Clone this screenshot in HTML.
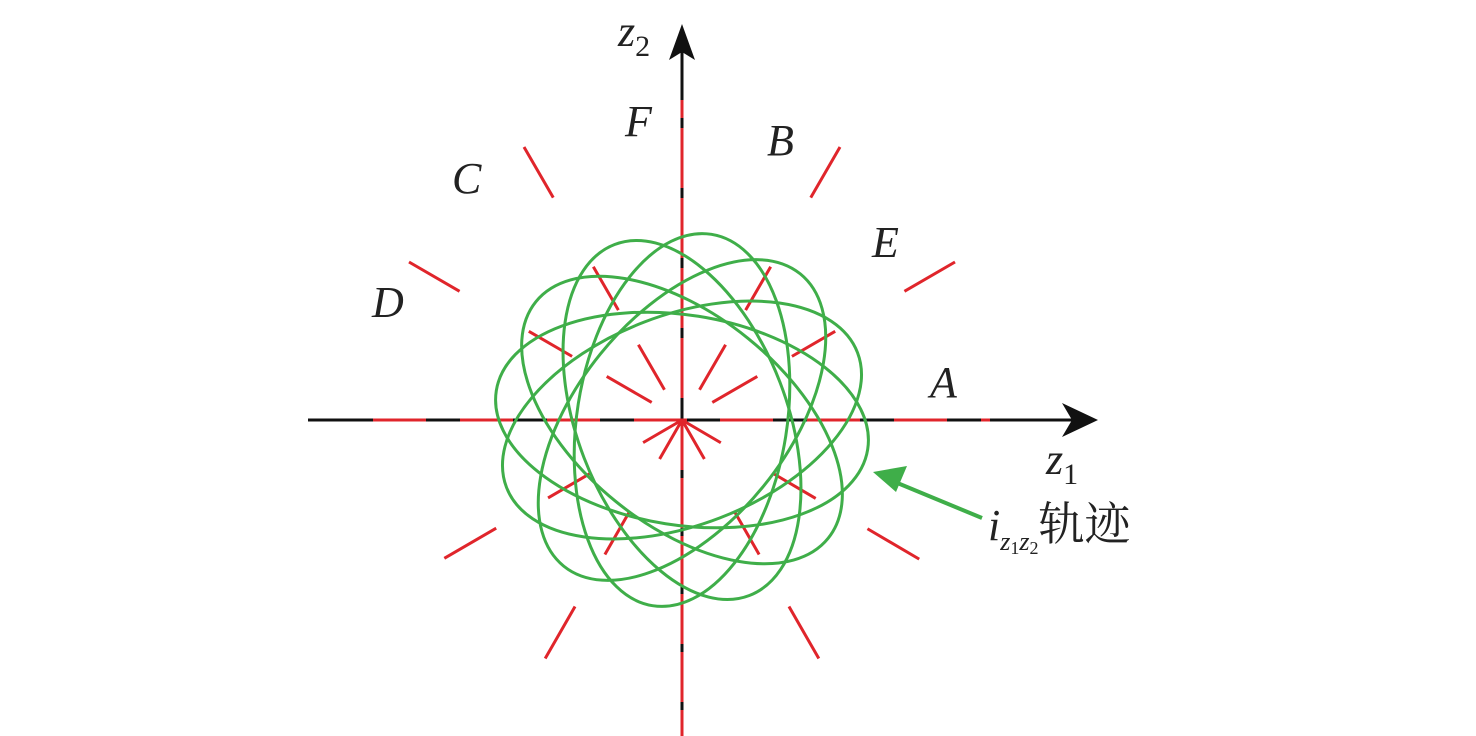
<!DOCTYPE html>
<html><head><meta charset="utf-8"><style>
html,body{margin:0;padding:0;background:#fff;width:1476px;height:736px;overflow:hidden}
svg{display:block}
text{font-family:"Liberation Serif","Noto Serif CJK SC",serif;font-style:italic;fill:#222}
</style></head><body>
<svg width="1476" height="736" viewBox="0 0 1476 736" xmlns="http://www.w3.org/2000/svg">
<g stroke="#111" stroke-width="3">
<line x1="308" y1="420" x2="1075" y2="420"/>
<line x1="682" y1="736" x2="682" y2="48"/>
</g>
<polygon points="1098,420 1062,403 1072,420 1062,437" fill="#111"/>
<polygon points="682,24 669,60 682,52 695,60" fill="#111"/>
<g stroke="#e0252b" stroke-width="3" fill="none">
<line x1="373" y1="420" x2="690" y2="420" stroke-dasharray="53 34"/>
<line x1="720" y1="420" x2="990" y2="420" stroke-dasharray="53 34"/>
<line x1="682" y1="420" x2="682" y2="736" stroke-dasharray="50 8"/>
<line x1="682" y1="420" x2="682" y2="100" stroke-dasharray="0 22 60 10 60 10 60 10 60 10 60 10 60 10"/>
<g stroke-dasharray="0 35 52 40 50 80 60 100">
<line x1="682" y1="420" x2="955" y2="262" />
<line x1="682" y1="420" x2="840" y2="147" />
<line x1="682" y1="420" x2="524" y2="147" />
<line x1="682" y1="420" x2="409" y2="262" />
</g>
<g stroke-dasharray="45 60 50 60 60 60 60">
<line x1="682" y1="420" x2="948" y2="576"/>
<line x1="682" y1="420" x2="838" y2="692"/>
<line x1="682" y1="420" x2="526" y2="692"/>
<line x1="682" y1="420" x2="414" y2="576"/>
</g>
</g>
<g stroke="#3fae49" stroke-width="3" fill="none">
<ellipse cx="682" cy="420" rx="188" ry="105" transform="rotate(-21 682 420)"/>
<ellipse cx="682" cy="420" rx="188" ry="105" transform="rotate(-51 682 420)"/>
<ellipse cx="682" cy="420" rx="188" ry="105" transform="rotate(-81 682 420)"/>
<ellipse cx="682" cy="420" rx="188" ry="105" transform="rotate(-111 682 420)"/>
<ellipse cx="682" cy="420" rx="188" ry="105" transform="rotate(-141 682 420)"/>
<ellipse cx="682" cy="420" rx="188" ry="105" transform="rotate(-171 682 420)"/>
</g>
<line x1="982" y1="518" x2="895" y2="482" stroke="#3fae49" stroke-width="4"/>
<polygon points="873,472 907,466 896,492" fill="#3fae49"/>
<g font-size="44">
<text x="625" y="136">F</text>
<text x="767" y="155">B</text>
<text x="452" y="193">C</text>
<text x="872" y="257">E</text>
<text x="372" y="317">D</text>
<text x="930" y="397">A</text>
<text x="618" y="46">z<tspan font-size="30" font-style="normal" dy="10">2</tspan></text>
<text x="1046" y="474">z<tspan font-size="30" font-style="normal" dy="10">1</tspan></text>
<text x="988" y="540">i<tspan font-size="26" dy="10">z</tspan><tspan font-size="18" font-style="normal" dy="4">1</tspan><tspan font-size="26" dy="-4">z</tspan><tspan font-size="18" font-style="normal" dy="4">2</tspan><tspan font-size="46" font-style="normal" dy="-14" style="font-family:'Noto Serif CJK SC',serif">轨迹</tspan></text>
</g>
</svg>
</body></html>
